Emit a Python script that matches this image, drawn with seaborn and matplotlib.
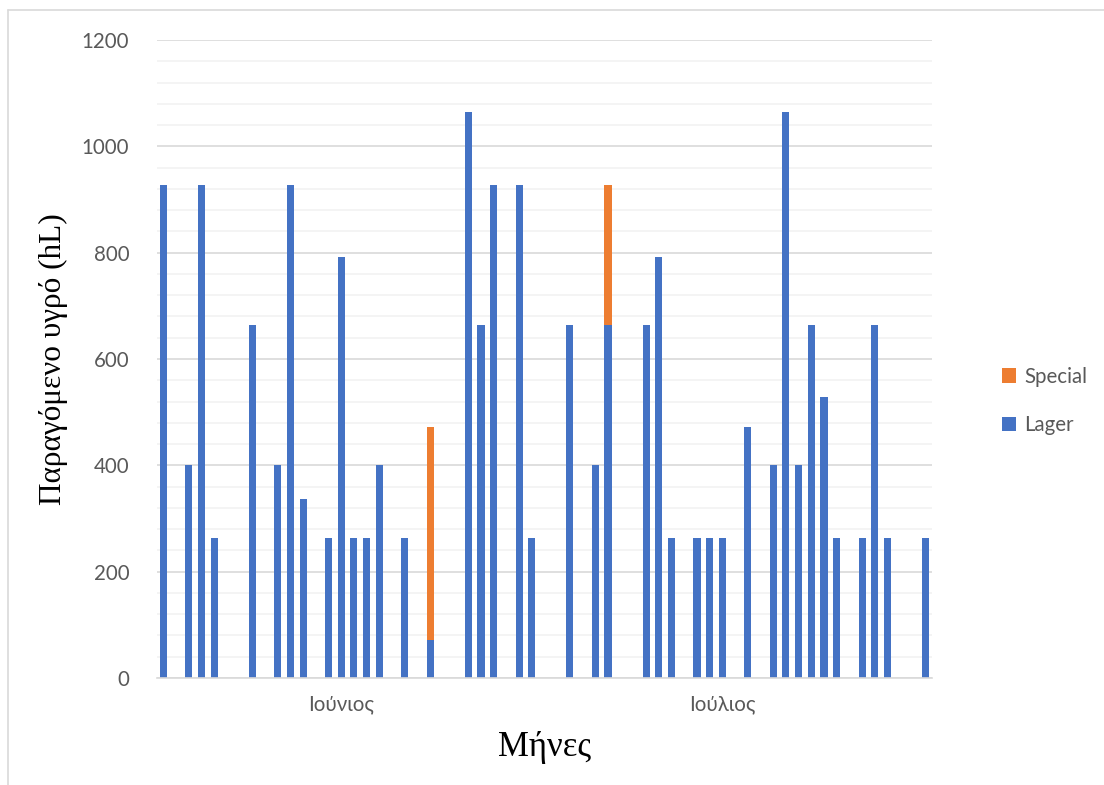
import matplotlib
matplotlib.use("Agg")
import matplotlib.pyplot as plt
from matplotlib.lines import Line2D
from matplotlib.patches import Patch
from matplotlib.ticker import MultipleLocator
import seaborn as sns
import pandas as pd
import numpy as np

# ---- data (one slot per day: June 1-30, July 1-31) ----
june_days = [f"{d}/6" for d in range(1, 31)]
july_days = [f"{d}/7" for d in range(1, 32)]
days = june_days + july_days

lager = [928, 0, 400, 928, 264, 0, 0, 664, 0, 400,
         928, 336, 0, 264, 792, 264, 264, 400, 0, 264,
         0, 72, 0, 0, 1064, 664, 928, 0, 928, 264,
         0, 0, 664, 0, 400, 664, 0, 0, 664, 792,
         264, 0, 264, 264, 264, 0, 472, 0, 400, 1064,
         400, 664, 528, 264, 0, 264, 664, 264, 0, 0,
         264]
special = [0] * 61
special[21] = 400
special[35] = 264

month_labels = ["Ιούνιος", "Ιούλιος"]
month_label_days = ["15/6", "15/7"]

df = pd.DataFrame({"day": days, "Lager": lager, "Special": special})
df["Total"] = df["Lager"] + df["Special"]

BLUE = "#4472C4"
ORANGE = "#ED7D31"
GRAY_TXT = "#595959"

sns.set_theme(style="white")
plt.rcParams["font.family"] = ["Lato", "DejaVu Sans"]

fig = plt.figure(figsize=(11.04, 7.85), dpi=100)
ax = fig.add_axes([157 / 1104, 107 / 785, (932 - 157) / 1104, (678 - 40) / 785])

sns.barplot(data=df, x="day", y="Total", order=days, color=ORANGE,
            saturation=1, width=0.56, ax=ax, zorder=3, edgecolor="none")
sns.barplot(data=df, x="day", y="Lager", order=days, color=BLUE,
            saturation=1, width=0.56, ax=ax, zorder=4, edgecolor="none")

ax.set_xlim(-0.5, len(days) - 0.5)
ax.set_ylim(0, 1200)
ax.yaxis.set_major_locator(MultipleLocator(200))
ax.yaxis.set_minor_locator(MultipleLocator(40))
ax.grid(which="major", axis="y", color="#D9D9D9", linewidth=1.2, zorder=0)
ax.grid(which="minor", axis="y", color="#F2F2F2", linewidth=1.2, zorder=0)
ax.grid(which="major", axis="x", visible=False)
ax.set_axisbelow(True)

ticks = [days.index(d) for d in month_label_days]
ax.set_xticks(ticks)
ax.set_xticklabels(month_labels)
ax.tick_params(axis="both", which="both", length=0, labelsize=14.8,
               labelcolor=GRAY_TXT)
ax.tick_params(axis="x", pad=12)
ax.tick_params(axis="y", pad=20)

for s in ["top", "right", "left"]:
    ax.spines[s].set_visible(False)
ax.spines["bottom"].set_color("#D9D9D9")
ax.spines["bottom"].set_linewidth(1.2)
ax.spines["bottom"].set_zorder(5)

ax.set_xlabel("Μήνες", family=["Liberation Serif", "DejaVu Serif"],
              fontsize=25, color="black", labelpad=12)
ax.set_ylabel("Παραγόμενο υγρό (hL)", family=["Liberation Serif", "DejaVu Serif"],
              fontsize=22.5, color="black", labelpad=10)

handles = [Patch(facecolor=ORANGE, edgecolor="none", label="Special"),
           Patch(facecolor=BLUE, edgecolor="none", label="Lager")]
leg = ax.legend(handles=handles, loc="center left", bbox_to_anchor=(1.066, 0.434),
                frameon=False, fontsize=14.8, handlelength=0.7, handleheight=0.7,
                handletextpad=0.4, labelspacing=1.4)
for t in leg.get_texts():
    t.set_color(GRAY_TXT)

# chart-area border (left and top edges)
fig.add_artist(Line2D([7.5 / 1104, 7.5 / 1104], [0, 1 - 10 / 785],
                      transform=fig.transFigure, color="#D9D9D9", linewidth=1.2))
fig.add_artist(Line2D([7.5 / 1104, 1], [1 - 10 / 785, 1 - 10 / 785],
                      transform=fig.transFigure, color="#D9D9D9", linewidth=1.2))

fig.savefig("out.png", dpi=100, facecolor="white")
